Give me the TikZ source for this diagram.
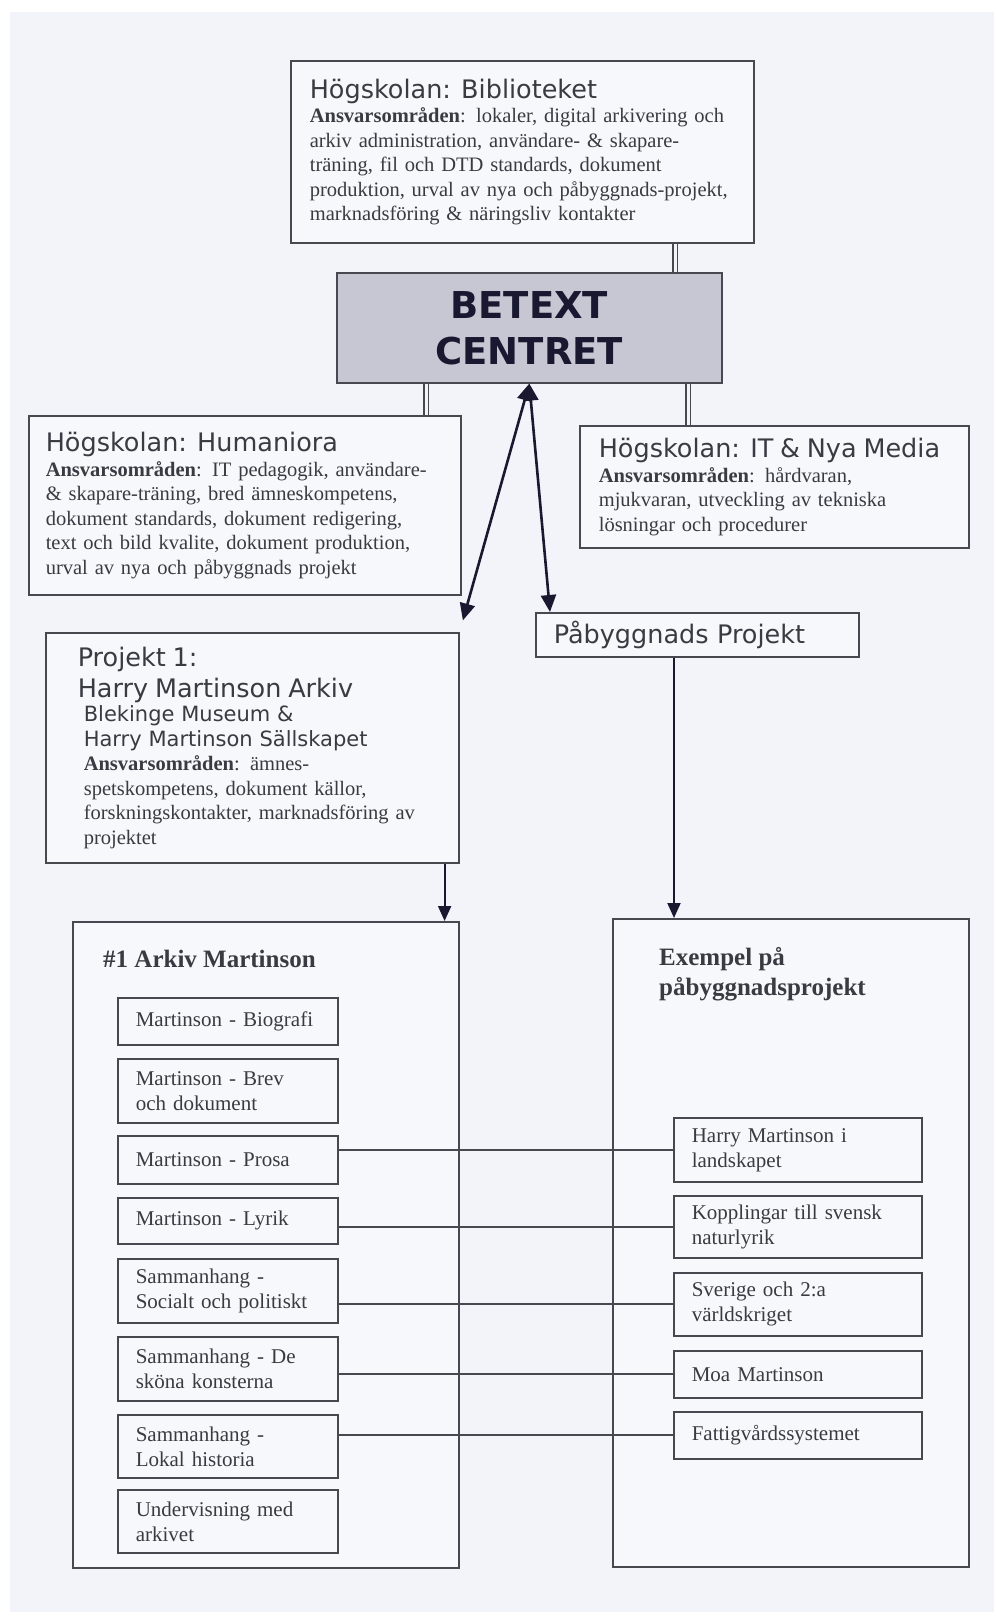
\documentclass[tikz,border=0pt]{standalone}
\usepackage{fontspec}
\setmainfont{Liberation Serif}
\newfontfamily\headfont{DejaVu Sans}
\usetikzlibrary{calc,arrows.meta}

\definecolor{paper}{RGB}{243,244,250}
\definecolor{boxfill}{RGB}{247,248,252}
\definecolor{ink}{RGB}{72,72,80}
\definecolor{txt}{RGB}{58,58,66}
\definecolor{centre}{RGB}{198,199,210}
\definecolor{betextblue}{RGB}{24,24,48}

\newcommand{\headtxt}{\fontsize{25.5}{24.5}\headfont}
\newcommand{\subtxt}{\fontsize{21}{25}\headfont}
\newcommand{\ansvar}{\textbf{Ansvarsområden}}

\begin{document}
\begin{tikzpicture}[x=1pt, y=-1pt,
    box/.style={draw=ink, line width=1.6pt, fill=boxfill, anchor=north west,
                align=left, inner sep=0pt, text=txt,
                font=\fontsize{20.5}{24.5}\selectfont},
    item/.style={box, inner xsep=18pt, text width=#1,
                 font=\fontsize{21}{25}\selectfont},
    dbl/.style={draw=ink, double=paper, double distance=3pt, line width=1.3pt},
    arr/.style={draw=betextblue, line width=2pt, -{Triangle[length=15pt,width=13pt]}},
    twoway/.style={draw=betextblue, line width=2.6pt,
                   {Triangle[length=17pt,width=15pt]}-{Triangle[length=17pt,width=15pt]}},
    link/.style={draw=ink, line width=2pt}]

  % paper
  \useasboundingbox (0,0) rectangle (994,1612);
  \fill[white] (0,0) rectangle (994,1612);
  \fill[paper] (10,12) rectangle (994,1612);

  % faculties and centre
  \node[box, minimum height=182pt, inner xsep=19pt, text width=425pt] (bib) at (290,60) {%
    {\headtxt Högskolan: Biblioteket}\\
    \ansvar: lokaler, digital arkivering och\\
    arkiv administration, användare- \& skapare-\\
    träning, fil och DTD standards, dokument\\
    produktion, urval av nya och påbyggnads-projekt,\\
    marknadsföring \& näringsliv kontakter};

  \node[box, fill=centre, minimum width=385pt, minimum height=110pt, align=center,
        text=betextblue, font=\fontsize{37}{46}\headfont\bfseries] (betext) at (336,272)
    {BETEXT\\CENTRET};

  \node[box, minimum height=179pt, inner xsep=17pt, text width=398pt] (hum) at (28,415) {%
    {\headtxt Högskolan: Humaniora}\\
    \ansvar: IT pedagogik, användare-\\
    \& skapare-träning, bred ämneskompetens,\\
    dokument standards, dokument redigering,\\
    text och bild kvalite, dokument produktion,\\
    urval av nya och påbyggnads projekt};

  \node[box, minimum height=122pt, inner xsep=19pt, text width=351pt] (it) at (579,425) {%
    {\headtxt Högskolan: IT \& Nya Media}\\
    \ansvar: hårdvaran,\\
    mjukvaran, utveckling av tekniska\\
    lösningar och procedurer};

  % projects
  \node[box, minimum height=230pt, inner xsep=38pt, text width=337pt] (proj) at (45,632) {%
    \hspace*{-6pt}{\headtxt Projekt 1:}\\[5pt]
    \hspace*{-6pt}{\headtxt Harry Martinson Arkiv}\\
    {\subtxt Blekinge Museum \&}\\
    {\subtxt Harry Martinson Sällskapet}\\
    \ansvar: ämnes-\\
    spetskompetens, dokument källor,\\
    forskningskontakter, marknadsföring av\\
    projektet};

  \node[box, minimum height=44pt, inner xsep=18pt, text width=287pt,
        font=\fontsize{25.5}{28}\headfont] (pab) at (535,612) {Påbyggnads Projekt};

  % containers
  \node[box, minimum width=386pt, minimum height=646pt] (arkiv) at (72,921) {};
  \node[box, minimum width=356pt, minimum height=648pt] (ex) at (612,918) {};
  \node[anchor=north west, inner sep=0pt, text=txt, font=\fontsize{25}{30}\selectfont\bfseries]
    (arkivtitle) at ($(arkiv.north west)+(31,29)$) {\#1 Arkiv Martinson};
  \node[anchor=north west, inner sep=0pt, text=txt, align=left,
        font=\fontsize{25}{30}\selectfont\bfseries]
    (extitle) at ($(ex.north west)+(47,29)$) {Exempel på\\påbyggnadsprojekt};

  % archive parts
  \node[item=184pt, minimum height=47pt] (bio) at (117,997) {Martinson - Biografi};
  \node[item=184pt, minimum height=64pt] (brev) at (117,1058) {Martinson - Brev\\och dokument};
  \node[item=184pt, minimum height=48pt] (prosa) at (117,1135) {Martinson - Prosa};
  \node[item=184pt, minimum height=46pt] (lyrik) at (117,1197) {Martinson - Lyrik};
  \node[item=184pt, minimum height=64pt] (soc) at (117,1258) {Sammanhang -\\Socialt och politiskt};
  \node[item=184pt, minimum height=64pt] (kon) at (117,1336) {Sammanhang - De\\sköna konsterna};
  \node[item=184pt, minimum height=63pt] (lok) at (117,1414) {Sammanhang -\\Lokal historia};
  \node[item=184pt, minimum height=63pt] (und) at (117,1489) {Undervisning med\\arkivet};

  % example projects
  \node[item=212pt, minimum height=64pt] (harry) at (673,1117) {Harry Martinson i\\landskapet};
  \node[item=212pt, minimum height=62pt] (kopp) at (673,1195) {Kopplingar till svensk\\naturlyrik};
  \node[item=212pt, minimum height=63pt] (sve) at (673,1272) {Sverige och 2:a\\världskriget};
  \node[item=212pt, minimum height=47pt] (moa) at (673,1350) {Moa Martinson};
  \node[item=212pt, minimum height=47pt] (fat) at (673,1411) {Fattigvårdssystemet};

  % double links to the centre
  \coordinate (d0) at ($(bib.south west)+(385,0)$);
  \coordinate (d1) at ($(betext.south west)+(90,0)$);
  \coordinate (d2) at ($(betext.south west)+(352,0)$);
  \draw[dbl] (d0) -- (d0 |- betext.north);
  \draw[dbl] (d1) -- (d1 |- hum.north);
  \draw[dbl] (d2) -- (d2 |- it.north);

  % arrows
  \coordinate (p0) at ($(pab.north west)+(15,0)$);
  \draw[twoway, shorten >=12pt] (betext.south) -- (proj.north east);
  \draw[twoway] (betext.south) -- (p0);
  \coordinate (p1) at ($(proj.south east)+(-15,0)$);
  \coordinate (p2) at ($(pab.south west)+(139,0)$);
  \draw[arr] (p1) -- (p1 |- arkiv.north);
  \draw[arr] (p2) -- (p2 |- ex.north);

  % cross links
  \foreach \a/\b in {prosa/harry, lyrik/kopp, soc/sve, kon/moa, lok/fat}
    \draw[link] (\b.west -| \a.east) -- (\b.west);

\end{tikzpicture}
\end{document}
